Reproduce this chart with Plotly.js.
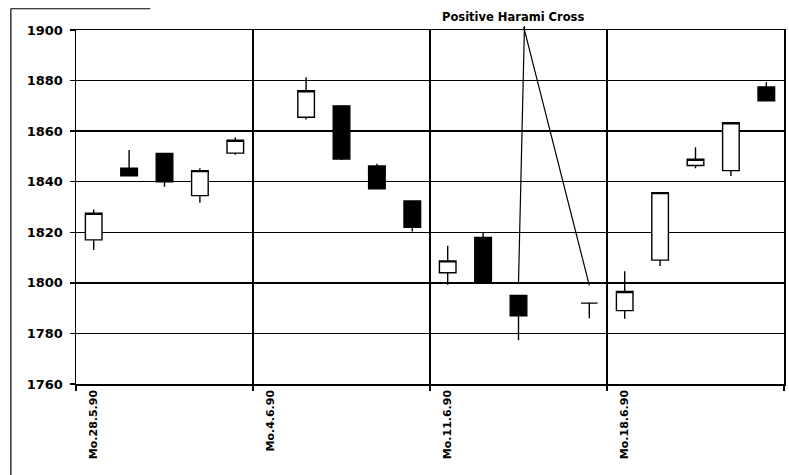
<!DOCTYPE html>
<html>
<head>
<meta charset="utf-8">
<script src="https://cdn.plot.ly/plotly-3.0.1.min.js"></script>
<style>
  html, body { margin: 0; padding: 0; background: #fff; }
  #chart { width: 789px; height: 475px; }
</style>
</head>
<body>
<div id="chart"></div>
<script>
// All trading-day slots on the axis (incl. holidays without data)
const allDays = [
  "Mo.28.5.90","Di.29.5.90","Mi.30.5.90","Do.31.5.90","Fr.1.6.90",
  "Mo.4.6.90","Di.5.6.90","Mi.6.6.90","Do.7.6.90","Fr.8.6.90",
  "Mo.11.6.90","Di.12.6.90","Mi.13.6.90","Do.14.6.90","Fr.15.6.90",
  "Mo.18.6.90","Di.19.6.90","Mi.20.6.90","Do.21.6.90","Fr.22.6.90"
];

// Days with candles
const dates = [
  "Mo.28.5.90","Di.29.5.90","Mi.30.5.90","Do.31.5.90","Fr.1.6.90",
  "Di.5.6.90","Mi.6.6.90","Do.7.6.90","Fr.8.6.90",
  "Mo.11.6.90","Di.12.6.90","Mi.13.6.90","Fr.15.6.90",
  "Mo.18.6.90","Di.19.6.90","Mi.20.6.90","Do.21.6.90","Fr.22.6.90"
];
const openVals  = [1817, 1845.3, 1851.2, 1834.5, 1851.3, 1865.5, 1870, 1846.2, 1832.4, 1804, 1818, 1795, 1792, 1789, 1809, 1846.4, 1844.4, 1877.5];
const highVals  = [1829, 1852.5, 1851.2, 1845.3, 1857.5, 1881.3, 1870.2, 1847.1, 1832.4, 1814.7, 1820, 1795, 1792, 1804.6, 1835.7, 1853.6, 1863.3, 1879.3];
const lowVals   = [1813, 1842.3, 1838, 1831.7, 1850.7, 1864.6, 1848.6, 1837.2, 1820.3, 1799.3, 1800, 1777.3, 1786, 1785.8, 1806.7, 1845.3, 1842.3, 1872];
const closeVals = [1827.5, 1842.3, 1840, 1844.4, 1856.4, 1876, 1849, 1837.2, 1822, 1808.7, 1800, 1787, 1792, 1796.6, 1835.7, 1848.9, 1863.3, 1872];

const annotationText = "Positive Harami Cross";
const annotationTargets = ["Mi.13.6.90", "Fr.15.6.90"];
const annotationTargetY = [1800, 1799];

const trace = {
  type: "candlestick",
  x: dates,
  open: openVals,
  high: highVals,
  low: lowVals,
  close: closeVals,
  whiskerwidth: 0,
  increasing: { line: { color: "#000", width: 1.4 }, fillcolor: "#fff" },
  decreasing: { line: { color: "#000", width: 1.4 }, fillcolor: "#000" },
  hoverinfo: "skip",
  showlegend: false
};

const FAM = "DejaVu Sans, Arial, sans-serif";

const layout = {
  width: 789,
  height: 475,
  margin: { l: 76, r: 5, t: 30, b: 91 },
  paper_bgcolor: "#fff",
  plot_bgcolor: "#fff",
  showlegend: false,
  boxgap: 0.33,
  xaxis: {
    type: "category",
    categoryorder: "array",
    categoryarray: allDays,
    range: [-0.5, allDays.length - 0.5],
    tickson: "boundaries",
    tick0: 0,
    dtick: 5,
    tickangle: -90,
    ticks: "outside",
    ticklen: 5,
    tickcolor: "#000",
    tickwidth: 1.3,
    showgrid: true,
    gridcolor: "#000",
    gridwidth: 1.5,
    showline: true,
    linecolor: "#000",
    linewidth: 1.5,
    mirror: true,
    tickfont: { family: FAM, size: 11, color: "#000", weight: "bold" },
    rangeslider: { visible: false },
    fixedrange: true
  },
  yaxis: {
    range: [1760, 1900],
    dtick: 20,
    ticks: "outside",
    ticklen: 5,
    tickcolor: "#000",
    tickwidth: 1.3,
    ticklabelstandoff: 4,
    showgrid: true,
    gridcolor: "#000",
    gridwidth: 1.5,
    zeroline: false,
    showline: true,
    linecolor: "#000",
    linewidth: 1.5,
    mirror: true,
    tickfont: { family: FAM, size: 13, color: "#000", weight: "bold" },
    fixedrange: true
  },
  shapes: [
    { type: "line", xref: "paper", yref: "paper", x0: -0.092, x1: -0.092, y0: 1.06, y1: -0.27,
      line: { color: "#000", width: 1.2 } },
    { type: "line", xref: "paper", yref: "paper", x0: -0.092, x1: 0.105, y0: 1.06, y1: 1.06,
      line: { color: "#000", width: 1.2 } }
  ],
  annotations: [
    { xref: "paper", yref: "paper", x: 0.617, y: 1.012, xanchor: "center", yanchor: "bottom",
      text: annotationText, showarrow: false,
      font: { family: FAM, size: 11.5, color: "#000", weight: "bold" } },
    { x: annotationTargets[0], y: annotationTargetY[0], xref: "x", yref: "y", text: "",
      showarrow: true, arrowhead: 0, arrowwidth: 1.2, arrowcolor: "#000", ax: 6, ay: -258, standoff: 0 },
    { x: annotationTargets[1], y: annotationTargetY[1], xref: "x", yref: "y", text: "",
      showarrow: true, arrowhead: 0, arrowwidth: 1.2, arrowcolor: "#000", ax: -66, ay: -260, standoff: 0 }
  ]
};

Plotly.newPlot("chart", [trace], layout, { displayModeBar: false, staticPlot: true });
</script>
</body>
</html>
